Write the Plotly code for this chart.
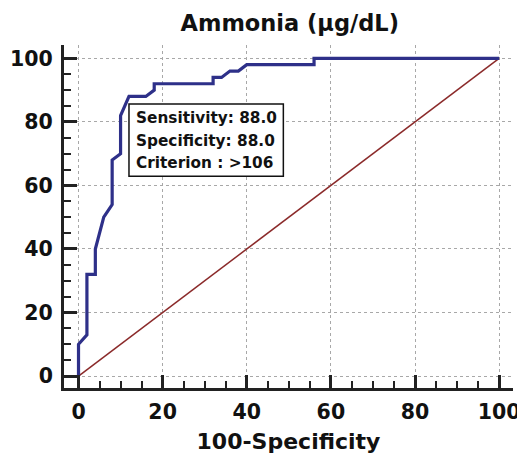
import plotly.graph_objects as go

# ROC curve (100-Specificity, Sensitivity)
fpr = [0, 0, 2, 2, 4, 4, 6, 8, 8, 10, 10, 12, 16, 18, 18, 32, 32, 34, 36, 38, 40, 56, 56, 100]
tpr = [0, 10, 13, 32, 32, 40, 50, 54, 68, 70, 82, 88, 88, 90, 92, 92, 94, 94, 96, 96, 98, 98, 100, 100]
diag_x = [0, 100]
diag_y = [0, 100]
tick_vals = [0, 20, 40, 60, 80, 100]
tick_text = ["0", "20", "40", "60", "80", "100"]
box_lines = ["Sensitivity: 88.0", "Specificity: 88.0", "Criterion : >106"]

FONT = "DejaVu Sans, Arial, sans-serif"

fig = go.Figure()
fig.add_trace(go.Scatter(x=diag_x, y=diag_y, mode="lines",
                         line=dict(color="#8b2a2a", width=1.5), hoverinfo="skip"))
fig.add_trace(go.Scatter(x=fpr, y=tpr, mode="lines",
                         line=dict(color="#2e3089", width=3.2), hoverinfo="skip"))

axis_common = dict(
    showline=True, linewidth=3, linecolor="#222222", mirror=False,
    showgrid=True, gridcolor="#a8a8a8", gridwidth=1, griddash="dot",
    zeroline=False,
    ticks="inside", ticklen=13, tickwidth=3, tickcolor="#222222",
    tickvals=tick_vals, ticktext=tick_text,
    tickfont=dict(family=FONT, size=20.5, color="#111111", weight="bold"),
    minor=dict(dtick=5, tick0=0, ticks="inside", ticklen=7, tickwidth=2,
               tickcolor="#222222", showgrid=False),
    automargin=False,
)

fig.update_xaxes(range=[-3.45, 103.3], ticklabelstandoff=3, **axis_common,
                 title=dict(text="100-Specificity",
                            font=dict(family=FONT, size=22, color="#111111", weight="bold"),
                            standoff=12))
fig.update_yaxes(range=[-3.75, 104.2], ticklabelstandoff=4, **axis_common)

# annotation box
fig.add_shape(type="rect", x0=12, x1=48.7, y0=62.9, y1=85.6,
              line=dict(color="#111111", width=1.5), fillcolor="white", layer="above")
ys = [81.2, 74.0, 67.0]
for t, yy in zip(box_lines, ys):
    fig.add_annotation(x=13.3, y=yy, text=t, showarrow=False, xanchor="left", yanchor="middle",
                       font=dict(family=FONT, size=15.3, color="#111111", weight="bold"))

# page body has an 8px margin; figure sized so the drawing lands where the reference has it
fig.update_layout(
    width=517, height=453,
    margin=dict(l=56, r=12, t=37, b=73, autoexpand=False),
    paper_bgcolor="white", plot_bgcolor="white",
    showlegend=False,
    title=dict(text="Ammonia (μg/dL)", x=0.545, xanchor="center", y=0.966, yanchor="middle",
               font=dict(family=FONT, size=22.5, color="#111111", weight="bold")),
)

fig.write_html("out.html")
